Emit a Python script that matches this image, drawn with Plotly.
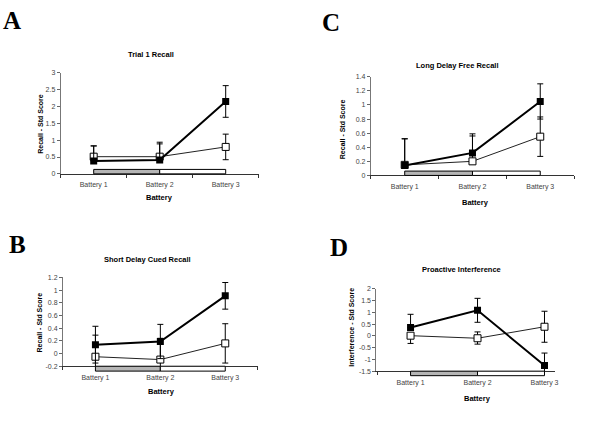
import plotly.graph_objects as go

BATTERIES = ["Battery 1", "Battery 2", "Battery 3"]
POS = [0, 1, 2]

# A - Trial 1 Recall
A_FILLED = [0.38, 0.41, 2.15]
A_FILLED_UP = [0.45, 0.53, 0.47]
A_FILLED_DN = [0, 0, 0.47]
A_OPEN = [0.51, 0.51, 0.80]
A_OPEN_UP = [0.32, 0.38, 0.38]
A_OPEN_DN = [0, 0, 0.38]
A_YTICKS = [0, 0.5, 1, 1.5, 2, 2.5, 3]
A_YTEXT = ["0", "0.5", "1", "1.5", "2", "2.5", "3"]

# C - Long Delay Free Recall
C_FILLED = [0.14, 0.32, 1.05]
C_FILLED_UP = [0.38, 0.27, 0.25]
C_FILLED_DN = [0, 0, 0.25]
C_OPEN = [0.15, 0.20, 0.55]
C_OPEN_UP = [0.37, 0.36, 0.28]
C_OPEN_DN = [0, 0, 0.28]
C_YTICKS = [0, 0.2, 0.4, 0.6, 0.8, 1, 1.2, 1.4]
C_YTEXT = ["0", "0.2", "0.4", "0.6", "0.8", "1", "1.2", "1.4"]

# B - Short Delay Cued Recall
B_FILLED = [0.14, 0.19, 0.91]
B_FILLED_ERR = [0.29, 0.27, 0.21]
B_OPEN = [-0.05, -0.095, 0.16]
B_OPEN_ERR = [0.34, 0.335, 0.31]
B_YTICKS = [-0.2, 0, 0.2, 0.4, 0.6, 0.8, 1, 1.2]
B_YTEXT = ["-0.2", "0", "0.2", "0.4", "0.6", "0.8", "1", "1.2"]

# D - Proactive Interference
D_FILLED = [0.36, 1.09, -1.26]
D_FILLED_UP = [0.56, 0.51, 0.53]
D_FILLED_DN = [0, 0.51, 0.53]
D_OPEN = [0.01, -0.10, 0.39]
D_OPEN_UP = [0, 0.27, 0.66]
D_OPEN_DN = [0.33, 0.25, 0.66]
D_YTICKS = [-1.5, -1, -0.5, 0, 0.5, 1, 1.5, 2]
D_YTEXT = ["-1.5", "-1", "-0.5", "0", "0.5", "1", "1.5", "2"]

FONT = "Liberation Sans, Arial, sans-serif"
W, H = 600, 425

# panel geometry in pixels: (left, right, top, bottom), x range, y range
PANELS = {
    "A": dict(px=(61, 260, 70, 172.7), xr=[-0.5, 2.5], yr=[0, 3]),
    "C": dict(px=(372.7, 577, 74, 174.3), xr=[-0.5, 2.5], yr=[0, 1.4]),
    "B": dict(px=(63.3, 259, 278, 368.3), xr=[-0.5, 2.5], yr=[-0.2, 1.2]),
    "D": dict(px=(378.3, 558, 289.7, 373.3), xr=[-0.51, 2.16], yr=[-1.5, 2]),
}


def err(plus, minus=None):
    d = dict(type="data", array=plus, color="black", thickness=1, width=3)
    if minus is not None:
        d.update(symmetric=False, arrayminus=minus)
    return d


def add_pair(fig, n, filled, f_up, f_dn, opn, o_up, o_dn):
    xa, ya = ("x", "y") if n == 1 else (f"x{n}", f"y{n}")
    fig.add_scatter(
        x=POS, y=opn, xaxis=xa, yaxis=ya, mode="lines+markers",
        line=dict(color="#222", width=1),
        marker=dict(symbol="square", size=7, color="white",
                    line=dict(color="black", width=1)),
        error_y=err(o_up, o_dn), showlegend=False,
    )
    fig.add_scatter(
        x=POS, y=filled, xaxis=xa, yaxis=ya, mode="lines+markers",
        line=dict(color="black", width=2),
        marker=dict(symbol="square", size=7, color="black"),
        error_y=err(f_up, f_dn), showlegend=False,
    )


fig = go.Figure()
add_pair(fig, 1, A_FILLED, A_FILLED_UP, A_FILLED_DN, A_OPEN, A_OPEN_UP, A_OPEN_DN)
add_pair(fig, 2, C_FILLED, C_FILLED_UP, C_FILLED_DN, C_OPEN, C_OPEN_UP, C_OPEN_DN)
add_pair(fig, 3, B_FILLED, B_FILLED_ERR, B_FILLED_ERR, B_OPEN, B_OPEN_ERR, B_OPEN_ERR)
add_pair(fig, 4, D_FILLED, D_FILLED_UP, D_FILLED_DN, D_OPEN, D_OPEN_UP, D_OPEN_DN)

layout = dict(
    width=W, height=H, margin=dict(l=0, r=0, t=0, b=0),
    paper_bgcolor="white", plot_bgcolor="white",
    font=dict(family=FONT, size=7, color="#333"),
)
yticks = {"A": (A_YTICKS, A_YTEXT), "C": (C_YTICKS, C_YTEXT),
          "B": (B_YTICKS, B_YTEXT), "D": (D_YTICKS, D_YTEXT)}
shapes = []
for n, key in enumerate(["A", "C", "B", "D"], start=1):
    p = PANELS[key]
    l, r, t, b = p["px"]
    sfx = "" if n == 1 else str(n)
    layout[f"xaxis{sfx}"] = dict(
        domain=[l / W, r / W], range=p["xr"], anchor=f"y{sfx}",
        tickvals=POS, ticktext=BATTERIES, ticks="outside", ticklen=4,
        tickcolor="rgba(0,0,0,0)", showgrid=False, zeroline=False,
        showline=True, linecolor="#333", linewidth=1,
        minor=dict(tickvals=[-0.5, 0.5, 1.5, 2.5], ticks="outside",
                   ticklen=3, tickcolor="#333", showgrid=False),
        tickfont=dict(size=7, color="#444"), fixedrange=True,
    )
    tv, tt = yticks[key]
    layout[f"yaxis{sfx}"] = dict(
        domain=[1 - b / H, 1 - t / H], range=p["yr"], anchor=f"x{sfx}",
        tickvals=tv, ticktext=tt, ticks="outside", ticklen=3,
        tickcolor="#666", showgrid=False, zeroline=False,
        showline=True, linecolor="#777", linewidth=1,
        tickfont=dict(size=7, color="#444"), fixedrange=True,
    )
    # battery period bars: shaded first interval, open second interval
    below = key in ("B", "D")
    y0, y1 = (-0.055, 0) if below else (0, 0.044)
    for x0, x1, fill in [(0, 1, "#b5b5b5"), (1, 2, "white")]:
        shapes.append(dict(
            type="rect", xref=f"x{sfx}", yref=f"y{sfx} domain",
            x0=x0, x1=x1, y0=y0, y1=y1, fillcolor=fill,
            line=dict(color="black", width=1), layer="above",
        ))
layout["shapes"] = shapes

ann = []


def text(x, y, s, size=7.5, angle=0, font=FONT, color="black"):
    ann.append(dict(x=x / W, y=1 - y / H, xref="paper", yref="paper",
                    text=s, showarrow=False, textangle=angle,
                    xanchor="center", yanchor="middle",
                    font=dict(family=font, size=size, color=color)))


SERIF = "Liberation Serif, Times New Roman, serif"
for lab, x, y in [("A", 12, 17), ("C", 333, 19), ("B", 18, 245), ("D", 341, 248)]:
    text(x, y, f"<b>{lab}</b>", size=25, font=SERIF)

for s, x, y in [("Trial 1 Recall", 152, 51), ("Long Delay Free Recall", 460, 63),
                ("Short Delay Cued Recall", 148, 260), ("Proactive Interference", 464, 270)]:
    text(x, y, f"<b>{s}</b>", size=7.5)

for x, y in [(160, 197), (478, 202), (162, 394), (480, 401)]:
    text(x, y, "<b>Battery</b>", size=7.5)

for s, x, y in [("Recall - Std Score", 41, 122), ("Recall - Std Score", 345, 127),
                ("Recall - Std Score", 40, 324), ("Interference - Std Score", 353, 329)]:
    text(x, y, f"<b>{s}</b>", size=7, angle=-90)

layout["annotations"] = ann
fig.update_layout(**layout)
# page body has a default 8px margin; drop it so the figure sits at 0,0
fig.write_html("out.html", config={"displayModeBar": False},
               post_script="document.body.style.margin='0';")
